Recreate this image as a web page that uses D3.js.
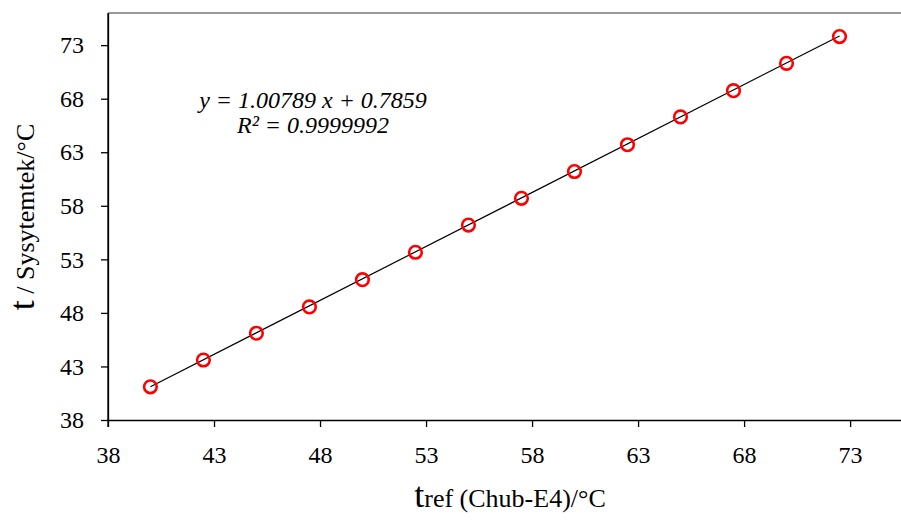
<!DOCTYPE html>
<html>
<head>
<meta charset="utf-8">
<script src="https://cdn.jsdelivr.net/npm/d3@7"></script>
<style>
  body { margin: 0; background: #fff; }
  svg { display: block; }
</style>
</head>
<body>
<div id="chart"></div>
<script>
// reference temperature (Chub-E4), °C
const tRef = [40, 42.5, 45, 47.5, 50, 52.5, 55, 57.5, 60, 62.5, 65, 67.5, 70, 72.5];
// Sysytemtek reading, °C
const tSys = [41.1, 43.6, 46.1, 48.56, 51.1, 53.66, 56.2, 58.7, 61.2, 63.7, 66.3, 68.75, 71.3, 73.8];
const xTicks = [38, 43, 48, 53, 58, 63, 68, 73];
const yTicks = [38, 43, 48, 53, 58, 63, 68, 73];
// linear fit shown on the chart
const fitSlope = 1.00789, fitIntercept = 0.7859, fitR2 = "0.9999992";

const W = 901, H = 529;
const plotLeft = 108, plotTop = 13, plotBottom = 420;
const serif = "Liberation Serif, Times New Roman, serif";

const svg = d3.select("#chart").append("svg")
    .attr("width", W)
    .attr("height", H);

const x = d3.scaleLinear().domain([38, 75.4]).range([plotLeft, W]);
const y = d3.scaleLinear().domain([38, 76]).range([plotBottom, plotTop]);

// top frame line (grey)
svg.append("line")
    .attr("x1", plotLeft).attr("x2", W)
    .attr("y1", plotTop).attr("y2", plotTop)
    .attr("stroke", "#999")
    .attr("stroke-width", 2);

const styleAxis = g => {
    g.attr("font-family", serif).attr("font-size", 24);
    g.selectAll("text").attr("fill", "#000");
    g.selectAll("line, path").attr("stroke", "#000").attr("stroke-width", 1.3);
};

svg.append("g")
    .attr("transform", `translate(0,${plotBottom})`)
    .call(d3.axisBottom(x).tickValues(xTicks).tickSize(7).tickSizeOuter(0).tickPadding(19))
    .call(styleAxis);

svg.append("g")
    .attr("transform", `translate(${plotLeft},0)`)
    .call(d3.axisLeft(y).tickValues(yTicks).tickSize(7).tickSizeOuter(0).tickPadding(17))
    .call(styleAxis);

// left axis runs to the bottom tick
svg.append("line")
    .attr("x1", plotLeft).attr("x2", plotLeft)
    .attr("y1", plotTop).attr("y2", plotBottom + 7)
    .attr("stroke", "#000").attr("stroke-width", 1.3);

// fit line
const xMin = d3.min(tRef), xMax = d3.max(tRef);
svg.append("line")
    .attr("x1", x(xMin)).attr("y1", y(fitSlope * xMin + fitIntercept))
    .attr("x2", x(xMax)).attr("y2", y(fitSlope * xMax + fitIntercept))
    .attr("stroke", "#000")
    .attr("stroke-width", 1.2);

svg.selectAll("circle.pt")
    .data(tRef.map((d, i) => ({ x: d, y: tSys[i] })))
    .join("circle")
    .attr("class", "pt")
    .attr("cx", d => x(d.x))
    .attr("cy", d => y(d.y))
    .attr("r", 6.3)
    .attr("fill", "none")
    .attr("stroke", "#ff0000")
    .attr("stroke-width", 2.6);

// equation
const eq = svg.append("text")
    .attr("text-anchor", "middle")
    .attr("font-family", serif)
    .attr("font-style", "italic")
    .attr("font-size", 24);
eq.append("tspan").attr("x", 313).attr("y", 108)
    .text(`y = ${fitSlope} x + ${fitIntercept}`);
eq.append("tspan").attr("x", 313).attr("y", 133)
    .text(`R² = ${fitR2}`);

// y axis title
const yl = svg.append("text")
    .attr("transform", "translate(34,217) rotate(-90)")
    .attr("text-anchor", "middle")
    .attr("font-family", serif)
    .attr("font-size", 26);
yl.append("tspan").attr("font-size", 36).text("t");
yl.append("tspan").text(" / Sysytemtek/°C");

// x axis title
const xl = svg.append("text")
    .attr("x", 510).attr("y", 507)
    .attr("text-anchor", "middle")
    .attr("font-family", serif)
    .attr("font-size", 26);
xl.append("tspan").attr("font-size", 36).text("t");
xl.append("tspan").text("ref (Chub-E4)/°C");
</script>
</body>
</html>
